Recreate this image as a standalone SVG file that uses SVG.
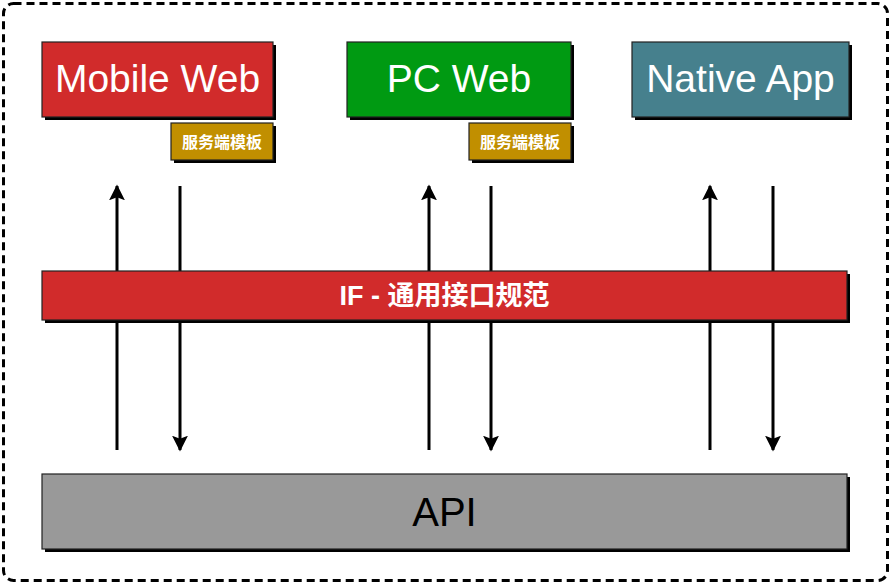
<svg xmlns="http://www.w3.org/2000/svg" width="892" height="585" viewBox="0 0 892 585">
<defs>
<style>
.shadow{fill:#000}
.box{stroke:#222;stroke-width:1.2}
.big{font-family:"Liberation Sans",Arial,sans-serif;font-size:39px;fill:#fff;text-anchor:middle}
.tag{font-family:"Liberation Sans","Noto Sans CJK SC",sans-serif;font-size:16px;font-weight:bold;fill:#fff;text-anchor:middle}
.conn{stroke:#000;stroke-width:3;fill:none}
</style>
<marker id="ah" viewBox="0 0 10 10" refX="9" refY="5" markerWidth="5.3" markerHeight="5.3" orient="auto" markerUnits="strokeWidth">
<path d="M0,0 L10,5 L0,10 L2,5 z" fill="#000"/>
</marker>
</defs>
<rect x="3.5" y="3.5" width="884" height="577" rx="10" fill="#fff" stroke="#000" stroke-width="3" stroke-dasharray="8 5"/>
<g id="connectors">
<line class="conn" x1="117" y1="450" x2="117" y2="186" marker-end="url(#ah)"/>
<line class="conn" x1="180" y1="186" x2="180" y2="450" marker-end="url(#ah)"/>
<line class="conn" x1="429" y1="450" x2="429" y2="186" marker-end="url(#ah)"/>
<line class="conn" x1="491" y1="186" x2="491" y2="450" marker-end="url(#ah)"/>
<line class="conn" x1="710" y1="450" x2="710" y2="186" marker-end="url(#ah)"/>
<line class="conn" x1="773" y1="186" x2="773" y2="450" marker-end="url(#ah)"/>
</g>
<g id="mobile-web">
<rect class="shadow" x="45" y="45" width="231" height="75"/>
<rect class="box" x="42" y="42" width="231" height="75" fill="#D12B2B"/>
<text class="big" x="157.5" y="92">Mobile Web</text>
</g>
<g id="mobile-tpl">
<rect class="shadow" x="174" y="126" width="102" height="37"/>
<rect class="box" x="171" y="123" width="102" height="37" fill="#C18F00"/>
<text class="tag" x="222" y="148">服务端模板</text>
</g>
<g id="pc-web">
<rect class="shadow" x="350" y="45" width="224" height="75"/>
<rect class="box" x="347" y="42" width="224" height="75" fill="#009A12"/>
<text class="big" x="459" y="92">PC Web</text>
</g>
<g id="pc-tpl">
<rect class="shadow" x="472" y="126" width="102" height="37"/>
<rect class="box" x="469" y="123" width="102" height="37" fill="#C18F00"/>
<text class="tag" x="520" y="148">服务端模板</text>
</g>
<g id="native-app">
<rect class="shadow" x="635" y="45" width="217" height="75"/>
<rect class="box" x="632" y="42" width="217" height="75" fill="#46808D"/>
<text class="big" x="740.5" y="92">Native App</text>
</g>
<g id="if-bar">
<rect class="shadow" x="45" y="274" width="805" height="49"/>
<rect class="box" x="42" y="271" width="805" height="49" fill="#D12B2B"/>
<text x="444.5" y="305" font-family="'Liberation Sans','Noto Sans CJK SC',sans-serif" font-size="27" font-weight="bold" fill="#fff" text-anchor="middle">IF - 通用接口规范</text>
</g>
<g id="api">
<rect class="shadow" x="45" y="477" width="805" height="75"/>
<rect class="box" x="42" y="474" width="805" height="75" fill="#999999"/>
<text x="444.5" y="526" font-family="'Liberation Sans',Arial,sans-serif" font-size="40" fill="#000" text-anchor="middle">API</text>
</g>
</svg>
